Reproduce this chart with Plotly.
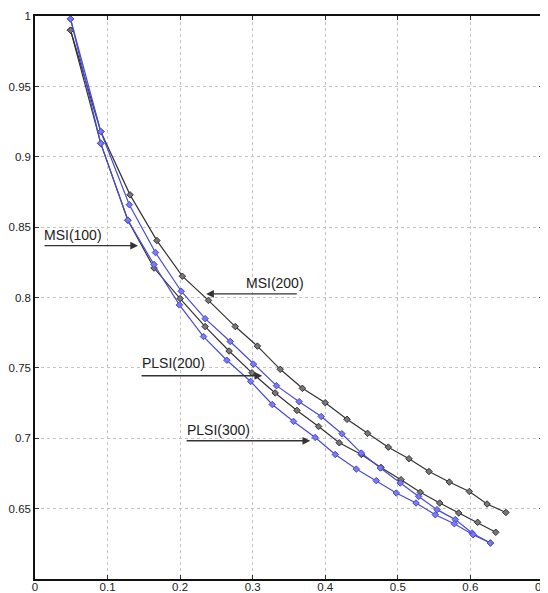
import plotly.graph_objects as go

# MSI(200) - upper black curve
msi200_x = [0.049, 0.0906, 0.131, 0.168, 0.203, 0.239, 0.276, 0.3065, 0.338, 0.3685,
            0.400, 0.430, 0.4584, 0.4869, 0.5154, 0.543, 0.571, 0.5986, 0.623, 0.649]
msi200_y = [0.990, 0.918, 0.873, 0.8405, 0.8152, 0.798, 0.7794, 0.7655, 0.749, 0.7355,
            0.7253, 0.7135, 0.7035, 0.6937, 0.6855, 0.6764, 0.6689, 0.6622, 0.6533, 0.6473]

# MSI(100) - lower black curve
msi100_x = [0.049, 0.0906, 0.128, 0.164, 0.200, 0.2345, 0.2675, 0.299, 0.331, 0.361,
            0.3908, 0.4193, 0.4497, 0.4768, 0.5044, 0.531, 0.5577, 0.5839, 0.610, 0.635]
msi100_y = [0.990, 0.9096, 0.855, 0.821, 0.7993, 0.7794, 0.762, 0.7465, 0.7322, 0.7198,
            0.7084, 0.6968, 0.6885, 0.6793, 0.6706, 0.6616, 0.654, 0.6469, 0.6403, 0.6332]

# PLSI(200) - upper blue curve
plsi200_x = [0.049, 0.0906, 0.130, 0.166, 0.2015, 0.2345, 0.269, 0.301, 0.3328, 0.3641,
             0.3945, 0.423, 0.4497, 0.4759, 0.5034, 0.5287, 0.554, 0.5793, 0.6023, 0.6276]
plsi200_y = [0.998, 0.918, 0.866, 0.832, 0.8045, 0.785, 0.7688, 0.7527, 0.7374, 0.726,
             0.7155, 0.7032, 0.6895, 0.6789, 0.6682, 0.6587, 0.6493, 0.6422, 0.6327, 0.6256]

# PLSI(300) - lower blue curve
plsi300_x = [0.049, 0.0906, 0.128, 0.164, 0.199, 0.2322, 0.2644, 0.2972, 0.327, 0.3563,
             0.3862, 0.4138, 0.4428, 0.4703, 0.4979, 0.5251, 0.5517, 0.5779, 0.6037, 0.6276]
plsi300_y = [0.998, 0.9096, 0.855, 0.8235, 0.7948, 0.7723, 0.7555, 0.7404, 0.724, 0.712,
             0.7006, 0.6885, 0.6781, 0.6699, 0.6611, 0.654, 0.6457, 0.6393, 0.6315, 0.6256]

x_ticks = [0, 0.1, 0.2, 0.3, 0.4, 0.5, 0.6, 0.7]
x_labels = ["0", "0.1", "0.2", "0.3", "0.4", "0.5", "0.6", "0.7"]
y_ticks = [0.65, 0.7, 0.75, 0.8, 0.85, 0.9, 0.95, 1.0]
y_labels = ["0.65", "0.7", "0.75", "0.8", "0.85", "0.9", "0.95", "1"]

# labels: (text, text_x, text_y, arrow_tail_x, arrow_head_x, arrow_y)
labels = [
    ("MSI(100)", 0.0097, 0.8445, 0.011, 0.142, 0.8369),
    ("MSI(200)", 0.2874, 0.8102, 0.3628, 0.2359, 0.8026),
    ("PLSI(200)", 0.1448, 0.7536, 0.1448, 0.3131, 0.7444),
    ("PLSI(300)", 0.2069, 0.7056, 0.2069, 0.3793, 0.6982),
]

BLACK = "#333333"
BLUE = "#4a4ad8"

fig = go.Figure()
for xs, ys, col, fill in [
    (msi200_x, msi200_y, BLACK, "#777777"),
    (msi100_x, msi100_y, BLACK, "#777777"),
    (plsi200_x, plsi200_y, BLUE, "#7b7bf0"),
    (plsi300_x, plsi300_y, BLUE, "#7b7bf0"),
]:
    fig.add_trace(go.Scatter(
        x=xs, y=ys, mode="lines+markers",
        line=dict(color=col, width=1.2),
        marker=dict(symbol="diamond", size=5, color=fill, line=dict(color=col, width=1)),
        showlegend=False, hoverinfo="skip",
    ))

for text, tx, ty, ax0, hx, ay in labels:
    fig.add_annotation(x=tx, y=ty, text=text, showarrow=False, xanchor="left",
                       yanchor="middle", xref="x", yref="y",
                       font=dict(family="Liberation Sans, Arial", size=14, color="#222222"))
    fig.add_annotation(x=hx, y=ay, ax=ax0, ay=ay, axref="x", ayref="y", xref="x", yref="y",
                       text="", showarrow=True, arrowhead=2, arrowsize=1.1,
                       arrowwidth=1.4, arrowcolor="#333333", standoff=0, startstandoff=0)

axis_common = dict(
    showline=True, linecolor="#111111", linewidth=1.5, mirror="ticks",
    ticks="inside", ticklen=4, tickcolor="#333333",
    showgrid=True, gridcolor="#c4c4c4", griddash="dot", gridwidth=1,
    zeroline=False, automargin=False, ticklabeloverflow="allow",
    tickfont=dict(family="Liberation Sans, Arial", size=11.5, color="#222222"),
)

fig.update_xaxes(range=[0, 0.7001], tickvals=x_ticks, ticktext=x_labels,
                 ticklabelstandoff=-4, **axis_common)
fig.update_yaxes(range=[0.6, 1.0001], tickvals=y_ticks, ticktext=y_labels, **axis_common)

# page body has an 8px default margin, so the figure is sized to the remaining window
fig.update_layout(
    width=540, height=585,
    margin=dict(l=27, r=5, t=8, b=14),
    plot_bgcolor="white", paper_bgcolor="white",
)

fig.write_html("out.html")
